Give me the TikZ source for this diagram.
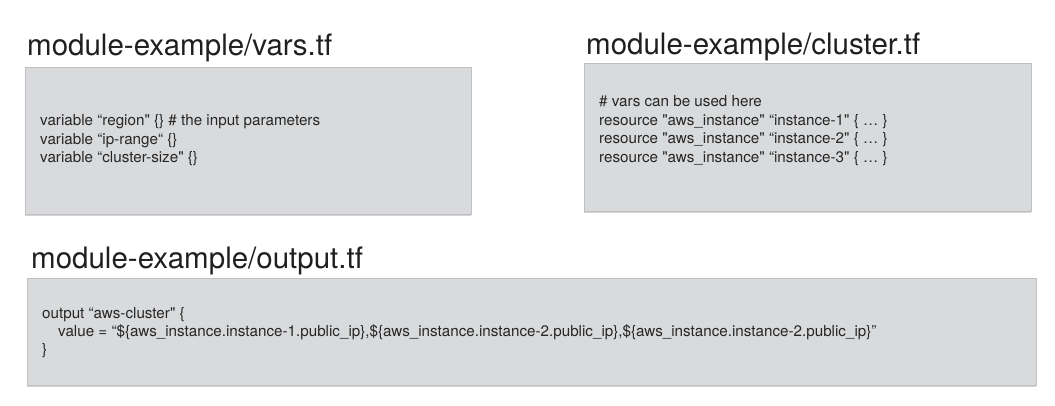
\documentclass[tikz,border=0pt]{standalone}
\usepackage{fontspec}
\setmainfont{TeX Gyre Heros}
\usetikzlibrary{positioning,shadows}

\definecolor{boxfill}{RGB}{217,218,220}
\definecolor{boxline}{RGB}{192,192,194}
\definecolor{codetext}{RGB}{38,38,38}
\newcommand{\sq}{\textquotedbl}

\begin{document}
\begin{tikzpicture}[x=1pt,y=-1pt,
    codebox/.style={draw=boxline, fill=boxfill, line width=0.8pt, inner sep=0pt,
        drop shadow={shadow xshift=0pt, shadow yshift=-1.5pt, opacity=0.35}},
    filetitle/.style={anchor=base west, inner sep=0pt, font=\fontsize{29.5}{34}\selectfont, text=black!88},
    codeline/.style={anchor=base west, inner sep=0pt, font=\fontsize{15.2}{19}\selectfont, text=codetext}]
    \useasboundingbox (0,0) rectangle (1055,405);

    % file titles
    \node[filetitle] (varstitle) at (27,55.5) {module-example/vars.tf};
    \node[filetitle] (clustertitle) at (586,54) {module-example/cluster.tf};
    \node[filetitle] (outputtitle) at (31,268) {module-example/output.tf};

    % grey code panels
    \node[codebox, minimum width=446pt, minimum height=147pt] (vars) at (248,140.5) {};
    \node[codebox, minimum width=447pt, minimum height=148pt] (cluster) at (807.5,137) {};
    \node[codebox, minimum width=1009pt, minimum height=107pt] (output) at (531.5,331.5) {};

    % vars.tf
    \node[codeline] (var1) at (40,125.5) {variable “region\sq{} \{\} \# the input parameters};
    \node[codeline] (var2) at (40,144) {variable “ip-range“ \{\}};
    \node[codeline] (var3) at (40,162.5) {variable “cluster-size\sq{} \{\}};

    % cluster.tf
    \node[codeline] (res0) at (599,106) {\# vars can be used here};
    \node[codeline] (res1) at (599,125) {resource \sq aws\_instance\sq{} “instance-1\sq{} \{ … \}};
    \node[codeline] (res2) at (599,143.5) {resource \sq aws\_instance\sq{} “instance-2\sq{} \{ … \}};
    \node[codeline] (res3) at (599,162) {resource \sq aws\_instance\sq{} “instance-3\sq{} \{ … \}};

    % output.tf
    \node[codeline] (out1) at (42,318) {output “aws-cluster\sq{} \{};
    \node[codeline] (out2) at (58,336.5) {value = “\$\{aws\_instance.instance-1.public\_ip\},\$\{aws\_instance.instance-2.public\_ip\},\$\{aws\_instance.instance-2.public\_ip\}”};
    \node[codeline] (out3) at (42,354) {\}};
\end{tikzpicture}
\end{document}
